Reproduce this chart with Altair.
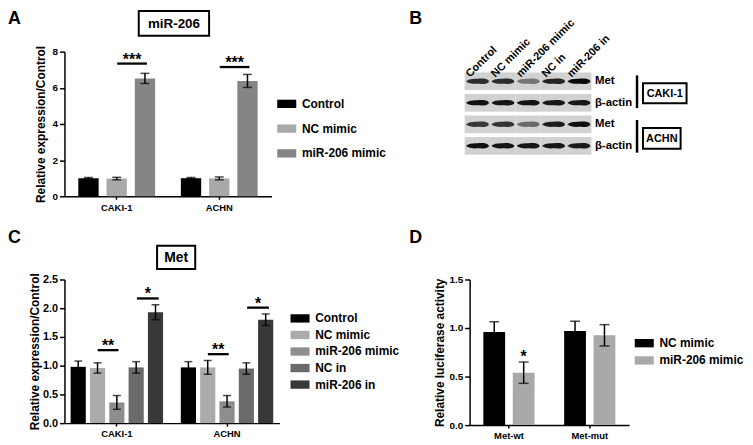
import altair as alt
import pandas as pd

FONT = "Liberation Sans, Arial, Helvetica, sans-serif"

# ---------------- Panel A : miR-206 expression ----------------
cells_a = ["CAKI-1", "ACHN"]
groups_a = ["Control", "NC mimic", "miR-206 mimic"]
colors_a = ["#000000", "#a9a9a9", "#858585"]
a_caki_mean = [1.00, 0.98, 6.52]
a_caki_err = [0.04, 0.07, 0.28]
a_achn_mean = [1.00, 0.99, 6.38]
a_achn_err = [0.04, 0.08, 0.36]
a_sig_y = [7.34, 7.15]
a_sig_label = ["***", "***"]

# ---------------- Panel B : western blot ----------------
lanes = ["Control", "NC mimic", "miR-206 mimic", "NC in", "miR-206 in"]
blot_rows = ["Met|CAKI-1", "β-actin|CAKI-1", "Met|ACHN", "β-actin|ACHN"]
met_caki = [0.80, 0.80, 0.42, 0.86, 1.00]
actin_caki = [0.96, 0.94, 0.95, 0.93, 0.92]
met_achn = [0.74, 0.76, 0.48, 0.90, 0.98]
actin_achn = [0.96, 0.94, 0.94, 0.94, 0.91]
blocks = ["CAKI-1", "ACHN"]

# ---------------- Panel C : Met expression ----------------
cells_c = ["CAKI-1", "ACHN"]
groups_c = ["Control", "NC mimic", "miR-206 mimic", "NC in", "miR-206 in"]
colors_c = ["#000000", "#ababab", "#8e8e8e", "#6a6a6a", "#383838"]
c_caki_mean = [0.98, 0.96, 0.36, 0.97, 1.93]
c_caki_err = [0.10, 0.09, 0.12, 0.10, 0.13]
c_achn_mean = [0.97, 0.97, 0.38, 0.95, 1.80]
c_achn_err = [0.10, 0.12, 0.10, 0.10, 0.10]
c_sig_mimic_y = [1.27, 1.20]
c_sig_mimic_label = ["**", "**"]
c_sig_in_y = [2.17, 2.01]
c_sig_in_label = ["*", "*"]

# ---------------- Panel D : luciferase ----------------
cells_d = ["Met-wt", "Met-mut"]
groups_d = ["NC mimic", "miR-206 mimic"]
colors_d = ["#000000", "#a9a9a9"]
d_wt_mean = [0.96, 0.54]
d_wt_err = [0.105, 0.11]
d_mut_mean = [0.97, 0.925]
d_mut_err = [0.10, 0.11]
d_wt_sig = ["", "*"]
d_mut_sig = ["", ""]

RECT_SYMBOL = "M-1.6,-0.7L1.6,-0.7L1.6,0.7L-1.6,0.7Z"
BAND_SHAPE = ("M-1,0 C-0.8,-0.18 -0.4,-0.24 0,-0.22 C0.4,-0.26 0.8,-0.26 1,-0.06 "
              "L1,0.08 C0.8,0.26 0.4,0.24 0,0.22 C-0.4,0.24 -0.8,0.2 -1,0 Z")
LINE_SHAPE = "M-1,0L1,0"


def long_df(cells, groups, means, errs, sigs=None):
    recs = []
    for i, c in enumerate(cells):
        for j, g in enumerate(groups):
            m, e = means[i][j], errs[i][j]
            recs.append(dict(cell=c, group=g, mean=m, lo=m - e, hi=m + e,
                             sig=(sigs[i][j] if sigs else "")))
    return pd.DataFrame(recs)


def one(text):
    return alt.Chart(pd.DataFrame({"t": [text]}))


def letter(text, x, y):
    return one(text).mark_text(fontSize=18, fontWeight="bold", align="left",
                               baseline="alphabetic", font=FONT, color="black").encode(
        text="t:N", x=alt.value(x), y=alt.value(y))


def boxed_title(text, x1, x2, y1, y2, size):
    box = one(text).mark_rect(filled=False, color="black", strokeWidth=2).encode(
        x=alt.value(x1), x2=alt.value(x2), y=alt.value(y1), y2=alt.value(y2))
    txt = one(text).mark_text(fontSize=size, fontWeight="bold", align="center",
                              baseline="middle", font=FONT, color="black").encode(
        text="t:N", x=alt.value((x1 + x2) / 2), y=alt.value((y1 + y2) / 2 + 1))
    return box + txt


def bar_panel(df, cells, groups, colors, ymax, yvalues, yfmt, ytitle,
              ylabel_size, xpi, xpo, opi, cap, legend_kw, titlepad):
    x = alt.X("cell:N", sort=cells, title=None,
              scale=alt.Scale(paddingInner=xpi, paddingOuter=xpo),
              axis=alt.Axis(labelAngle=0, labelFontSize=9.5, tickSize=3, labelPadding=3))
    xo = alt.XOffset("group:N", sort=groups,
                     scale=alt.Scale(paddingInner=opi, paddingOuter=0))
    yscale = alt.Scale(domain=[0, ymax], nice=False, zero=True)
    yaxis = alt.Axis(values=yvalues, format=yfmt, tickSize=5, labelFontSize=ylabel_size,
                     labelOverlap=False, titleFontSize=12, titlePadding=titlepad,
                     labelPadding=2)
    base = alt.Chart(df)
    bars = base.mark_bar().encode(
        x=x, xOffset=xo,
        y=alt.Y("mean:Q", title=ytitle, scale=yscale, axis=yaxis),
        color=alt.Color("group:N", sort=groups,
                        scale=alt.Scale(domain=groups, range=colors),
                        legend=alt.Legend(title=None, orient="none", symbolType=RECT_SYMBOL,
                                          symbolSize=144, symbolStrokeWidth=0,
                                          labelFontSize=12, labelFontWeight="bold",
                                          labelFont=FONT, labelColor="black",
                                          labelOffset=9.4, **legend_kw)))
    err = base.mark_rule(color="black", strokeWidth=1.5).encode(
        x=x, xOffset=xo, y=alt.Y("lo:Q", title=ytitle, scale=yscale, axis=yaxis), y2="hi:Q")
    cap_hi = base.mark_tick(color="black", thickness=1.5, size=cap, orient="horizontal").encode(
        x=x, xOffset=xo, y=alt.Y("hi:Q", title=ytitle, scale=yscale, axis=yaxis))
    cap_lo = base.mark_tick(color="black", thickness=1.5, size=cap, orient="horizontal").encode(
        x=x, xOffset=xo, y=alt.Y("lo:Q", title=ytitle, scale=yscale, axis=yaxis))
    return bars + err + cap_hi + cap_lo, yscale, ytitle, yaxis


def sig_layers(cells, ys, labels, band_pos, line_w, yscale, ytitle, yaxis):
    sdf = pd.DataFrame({"cell": cells, "y": ys, "label": labels})
    xs = alt.X("cell:N", sort=cells, bandPosition=band_pos, title=None)
    line = alt.Chart(sdf).mark_point(shape=LINE_SHAPE, filled=False, strokeWidth=2.3,
                                     size=line_w * line_w, color="black", opacity=1,
                                     strokeCap="butt").encode(
        x=xs, y=alt.Y("y:Q", title=ytitle, scale=yscale, axis=yaxis))
    stars = alt.Chart(sdf).mark_text(fontSize=16, fontWeight="bold", font=FONT,
                                     baseline="alphabetic", dy=1, color="black").encode(
        x=xs, y=alt.Y("y:Q", title=ytitle, scale=yscale, axis=yaxis), text="label:N")
    return line + stars


# invisible anchor fixing the top-left corner of the figure
anchor = one("anchor").mark_rect(opacity=0).encode(
    x=alt.value(-57), x2=alt.value(-56), y=alt.value(-42), y2=alt.value(-41))

# ---------- Panel A ----------
df_a = long_df(cells_a, groups_a, [a_caki_mean, a_achn_mean], [a_caki_err, a_achn_err])
bars_a, ys_a, yt_a, ya_a = bar_panel(
    df_a, cells_a, groups_a, colors_a, 8, [0, 2, 4, 6, 8], "d",
    "Relative expression/Control", 10, 0.251, 0.135, 0.28, 9,
    dict(legendX=218.4, legendY=46.7, rowPadding=13), 5)
panel_a = alt.layer(
    bars_a,
    sig_layers(cells_a, a_sig_y, a_sig_label, 0.70, 30, ys_a, yt_a, ya_a),
    boxed_title("miR-206", 75, 146, -41, -16, 13.5),
    letter("A", -57, -28),
    anchor,
).properties(width=209, height=146)

# ---------- Panel B ----------
blot_vals = [met_caki, actin_caki, met_achn, actin_achn]
blot_df = pd.DataFrame([{"lane": l, "row": r, "signal": v}
                        for r, vals in zip(blot_rows, blot_vals)
                        for l, v in zip(lanes, vals)])
xB = alt.X("lane:N", sort=lanes, axis=None,
           scale=alt.Scale(range=[-5, 123], paddingInner=0, paddingOuter=0))
yB = alt.Y("row:N", sort=blot_rows, title=None,
           scale=alt.Scale(range=[21, 104], paddingInner=0.18, paddingOuter=0),
           axis=alt.Axis(orient="right", labelExpr="split(datum.value, '|')[0]",
                         domain=False, ticks=False, labelPadding=3, labelFontSize=11.5,
                         labelBaseline="middle"))
blot_bg = alt.Chart(blot_df).mark_rect(color="#d1d1d1").encode(x=xB, y=yB)
blot_bands = alt.Chart(blot_df).mark_point(shape=BAND_SHAPE, filled=True, size=529,
                                           strokeWidth=0, opacity=1).encode(
    x=xB, y=yB,
    color=alt.Color("signal:Q", legend=None,
                    scale=alt.Scale(domain=[0, 1], range=["#d1d1d1", "#070707"])))
lane_labels = alt.Chart(pd.DataFrame({"lane": lanes})).mark_text(
    angle=315, align="left", baseline="alphabetic", dx=-10.5, fontSize=11,
    fontWeight="bold", font=FONT, color="black").encode(
    x=xB, y=alt.value(19), text="lane:N")
bracket1 = one("b").mark_rule(color="black", strokeWidth=2.5).encode(
    x=alt.value(169), y=alt.value(24), y2=alt.value(57))
bracket2 = one("b").mark_rule(color="black", strokeWidth=2.5).encode(
    x=alt.value(169), y=alt.value(69), y2=alt.value(102))
panel_b = alt.layer(
    blot_bg, blot_bands, lane_labels, bracket1, bracket2,
    boxed_title(blocks[0], 175, 219, 32, 52, 11),
    boxed_title(blocks[1], 175, 213, 77, 98, 11),
    letter("B", -61, -28),
).properties(width=123, height=104)

# ---------- Panel C ----------
df_c = long_df(cells_c, groups_c, [c_caki_mean, c_achn_mean], [c_caki_err, c_achn_err])
bars_c, ys_c, yt_c, ya_c = bar_panel(
    df_c, cells_c, groups_c, colors_c, 2.5, [0, 0.5, 1.0, 1.5, 2.0, 2.5], ".1f",
    "Relative expression/Control", 11, 0.161, 0.056, 0.215, 8,
    dict(legendX=231.8, legendY=33.3, rowPadding=4.7), 1)
panel_c = alt.layer(
    bars_c,
    sig_layers(cells_c, c_sig_mimic_y, c_sig_mimic_label, 0.405, 21, ys_c, yt_c, ya_c),
    sig_layers(cells_c, c_sig_in_y, c_sig_in_label, 0.835, 22, ys_c, yt_c, ya_c),
    boxed_title("Met", 93.5, 132, -34, -10.7, 14),
    letter("C", -57, -37),
).properties(width=217, height=145)

# ---------- Panel D ----------
df_d = long_df(cells_d, groups_d, [d_wt_mean, d_mut_mean], [d_wt_err, d_mut_err],
               [d_wt_sig, d_mut_sig])
bars_d, ys_d, yt_d, ya_d = bar_panel(
    df_d, cells_d, groups_d, colors_d, 1.5, [0, 0.5, 1.0, 1.5], ".1f",
    "Relative luciferase activity", 10, 0.366, 0.17, 0.26, 10,
    dict(legendX=170.3, legendY=58.3, rowPadding=5.4), 2)
star_d = alt.Chart(df_d).mark_text(fontSize=16, fontWeight="bold", font=FONT,
                                   baseline="alphabetic", dy=0, color="black").encode(
    x=alt.X("cell:N", sort=cells_d, title=None),
    xOffset=alt.XOffset("group:N", sort=groups_d),
    y=alt.Y("hi:Q", title=yt_d, scale=ys_d, axis=ya_d), text="sig:N")
panel_d = alt.layer(
    bars_d, star_d,
    letter("D", -61, -37),
).properties(width=161, height=147)

chart = alt.concat(
    panel_a, panel_b, panel_c, panel_d,
    columns=2, spacing={"row": 84, "column": 192}, bounds="flush", align="each",
).resolve_scale(
    color="independent", xOffset="independent", x="independent", y="independent"
).properties(padding=0, background="white").configure_view(
    stroke=None
).configure_axis(
    grid=False, labelFont=FONT, titleFont=FONT, labelFontWeight="bold",
    titleFontWeight="bold", labelColor="black", titleColor="black",
    domainColor="black", tickColor="black", domainWidth=1.5, tickWidth=1.5
).configure_text(font=FONT)

chart.save("out.html", embed_options={"renderer": "svg", "actions": False})
